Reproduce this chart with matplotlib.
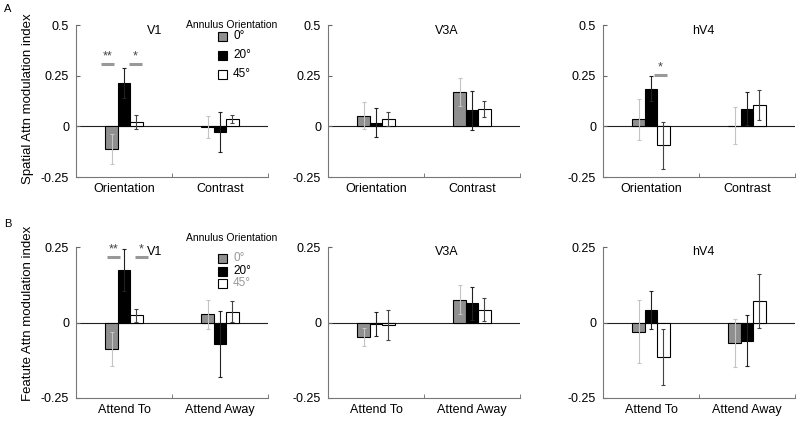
import matplotlib
matplotlib.use('Agg')
import matplotlib.pyplot as plt
from matplotlib.patches import Rectangle

plt.rcParams['font.family'] = ['Liberation Sans', 'DejaVu Sans']

regions = ['V1', 'V3A', 'hV4']
orientations = ['0°', '20°', '45°']
spatial_groups = ['Orientation', 'Contrast']
feature_groups = ['Attend To', 'Attend Away']

# [region][group][orientation]
spatial_mean = [
    [[-0.113, 0.214, 0.023], [-0.005, -0.028, 0.034]],
    [[0.053, 0.018, 0.035], [0.168, 0.079, 0.084]],
    [[0.035, 0.186, -0.094], [0.004, 0.087, 0.104]],
]
spatial_err = [
    [[0.073, 0.074, 0.034], [0.055, 0.100, 0.020]],
    [[0.067, 0.072, 0.034], [0.070, 0.095, 0.040]],
    [[0.102, 0.063, 0.117], [0.090, 0.082, 0.075]],
]
feature_mean = [
    [[-0.088, 0.173, 0.024], [0.027, -0.071, 0.036]],
    [[-0.049, -0.005, -0.008], [0.076, 0.063, 0.043]],
    [[-0.030, 0.041, -0.115], [-0.069, -0.060, 0.071]],
]
feature_err = [
    [[0.055, 0.070, 0.022], [0.048, 0.108, 0.035]],
    [[0.030, 0.040, 0.050], [0.048, 0.056, 0.037]],
    [[0.103, 0.062, 0.093], [0.080, 0.085, 0.090]],
]
# significance: (row, region, group, x offset, y, label)
sig_marks = [
    (0, 0, 0, -0.17, 0.31, '**'),
    (0, 0, 0, 0.12, 0.31, '*'),
    (0, 2, 0, 0.10, 0.255, '*'),
    (1, 0, 0, -0.11, 0.218, '**'),
    (1, 0, 0, 0.18, 0.218, '*'),
]

bar_colors = ['#8f8f8f', '#000000', '#ffffff']
err_colors = ['#c4c4c4', '#222222', '#444444']
legend_text_top = ['black', 'black', 'black']
legend_text_bot = ['#999999', 'black', '#999999']

fig = plt.figure(figsize=(8, 4.21), dpi=100)
W, H = 800.0, 421.0

lefts = [76, 328, 603]
row_box = [(25, 177), (247, 398)]
aw = 192
width = 0.13

rows = [
    (spatial_mean, spatial_err, spatial_groups, [-0.25, 0, 0.25, 0.5], ['-0.25', '0', '0.25', '0.5']),
    (feature_mean, feature_err, feature_groups, [-0.25, 0, 0.25], ['-0.25', '0', '0.25']),
]

axes = {}
for r, (means, errs, groups, yt, ytl) in enumerate(rows):
    top, bot = row_box[r]
    for k, reg in enumerate(regions):
        ax = fig.add_axes([lefts[k] / W, 1 - bot / H, aw / W, (bot - top) / H])
        axes[(r, k)] = ax
        for c in range(3):
            xs = [g + 1 + (c - 1) * width for g in range(2)]
            ys = [means[k][g][c] for g in range(2)]
            es = [errs[k][g][c] for g in range(2)]
            ax.bar(xs, ys, width=width, color=bar_colors[c], edgecolor='black',
                   linewidth=0.8, zorder=2)
            ax.errorbar(xs, ys, yerr=es, fmt='none', ecolor=err_colors[c],
                        elinewidth=0.8, capsize=1.5, capthick=0.8, zorder=3)
        ax.axhline(0, color='#222222', linewidth=0.8, zorder=1)
        ax.set_xlim(0.5, 2.5)
        ax.set_ylim(yt[0], yt[-1])
        ax.set_xticks([1, 2])
        ax.set_xticklabels(groups, fontsize=9)
        ax.set_xticks([1.5, 2.5], minor=True)
        ax.tick_params(axis='x', which='major', length=0, pad=4)
        ax.tick_params(axis='x', which='minor', length=3, direction='in', color='#666666')
        ax.set_yticks(yt)
        ax.set_yticklabels(ytl, fontsize=9)
        ax.tick_params(axis='y', length=3, direction='in', color='#666666', pad=5)
        for s in ['top', 'right']:
            ax.spines[s].set_visible(False)
        for s in ['left', 'bottom']:
            ax.spines[s].set_color('#777777')
            ax.spines[s].set_linewidth(0.8)
        ax.text(0.41 if k == 0 else 0.62 if k == 1 else 0.52, 0.96 if r == 0 else 0.97,
                reg, transform=ax.transAxes, fontsize=9, ha='center', va='center')

for r, k, g, dx, y, lab in sig_marks:
    ax = axes[(r, k)]
    x = g + 1 + dx
    ax.plot([x - 0.065, x + 0.065], [y, y], color='#999999', linewidth=2.2,
            solid_capstyle='butt', zorder=4)
    ax.text(x, y + 0.005, lab, ha='center', va='bottom', fontsize=9, color='#444444')

# y labels and panel letters
fig.text(28 / W, 1 - 99 / H, 'Spatial Attn modulation index', rotation=90,
         ha='center', va='center', fontsize=9.5)
fig.text(28 / W, 1 - 313 / H, 'Featute Attn modulation index', rotation=90,
         ha='center', va='center', fontsize=9.5)
fig.text(8 / W, 1 - 9 / H, 'A', fontsize=8, ha='center', va='center')
fig.text(8 / W, 1 - 224 / H, 'B', fontsize=8, ha='center', va='center')

# legends
legend_rows = [(25, [36, 55, 74], legend_text_top), (238, [258, 271, 283], legend_text_bot)]
for ty, eys, tcolors in legend_rows:
    fig.text(186 / W, 1 - ty / H, 'Annulus Orientation', fontsize=7.5,
             ha='left', va='center')
    for c, ey in enumerate(eys):
        fig.patches.append(Rectangle((218 / W, 1 - (ey + 4.5) / H), 9 / W, 9 / H,
                                     transform=fig.transFigure, facecolor=bar_colors[c],
                                     edgecolor='black', linewidth=0.8))
        fig.text(233 / W, 1 - ey / H, orientations[c], fontsize=8.5, ha='left',
                 va='center', color=tcolors[c])

fig.savefig('out.png', dpi=100)
